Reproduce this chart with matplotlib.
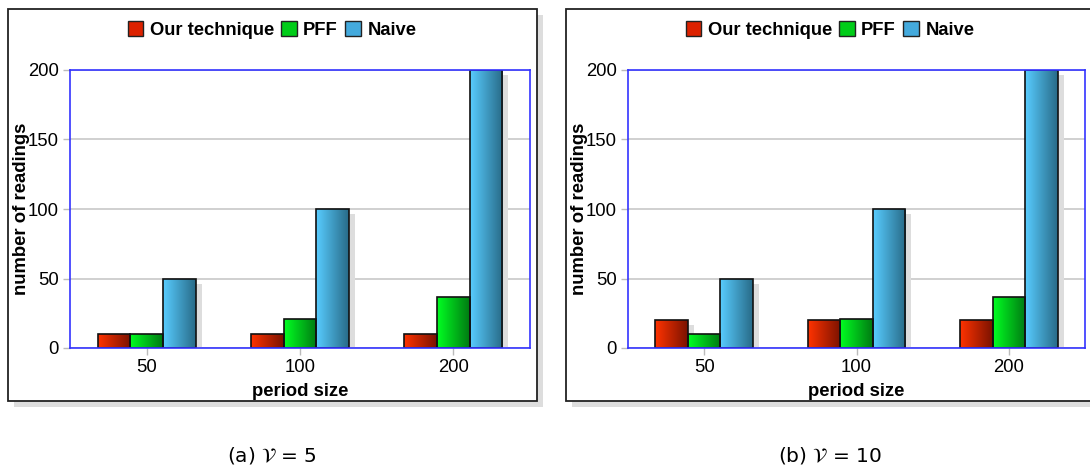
import numpy as np
import matplotlib
matplotlib.use("Agg")
import matplotlib.pyplot as plt
from matplotlib.patches import Rectangle, Patch
from matplotlib.colors import LinearSegmentedColormap

plt.rcParams['font.family'] = ['Liberation Sans', 'DejaVu Sans']

# datos
periodos = ['50', '100', '200']
series = ['Our technique', 'PFF', 'Naive']
our_a = [10, 10, 10]
pff_a = [10, 21, 37]
naive_a = [50, 100, 200]
our_b = [20, 20, 20]
pff_b = [10, 21, 37]
naive_b = [50, 100, 200]
subtitulos = [r'(a) $\mathcal{V}$ = 5', r'(b) $\mathcal{V}$ = 10']

# colores (claro a la izquierda, oscuro a la derecha)
grad = {
    'Our technique': ('#ff3300', '#7a1200'),
    'PFF': ('#00ff22', '#007a12'),
    'Naive': ('#58ccff', '#286b88'),
}
medio = {'Our technique': '#dd2200', 'PFF': '#00cc18', 'Naive': '#44aadd'}

W, H = 1090, 476
fig = plt.figure(figsize=(W / 100, H / 100), dpi=100)


def marco(x0, y0, x1, y1):
    # sombra gris y marco negro (coordenadas de figura)
    fig.patches.append(Rectangle((x0 + 6 / W, y0 - 6 / H), x1 - x0, y1 - y0,
                                 transform=fig.transFigure, facecolor='#dddddd',
                                 edgecolor='none', zorder=0))
    fig.patches.append(Rectangle((x0, y0), x1 - x0, y1 - y0, transform=fig.transFigure,
                                 facecolor='white', edgecolor='#222222', lw=1.3, zorder=1))


marco(8 / W, 1 - 401 / H, 537 / W, 1 - 9 / H)
marco(566 / W, 1 - 401 / H, 1100 / W, 1 - 9 / H)


def panel(rect, datos, centro_x, sub):
    ax = fig.add_axes(rect)
    ax.set_zorder(2)
    x = np.arange(len(periodos))
    ancho = 0.213
    for i, (nombre, vals) in enumerate(zip(series, datos)):
        pos = x + (i - 1) * ancho
        cmap = LinearSegmentedColormap.from_list(nombre, grad[nombre])
        barras = ax.bar(pos, vals, ancho, facecolor='none', edgecolor='#111111',
                        lw=1.2, zorder=4)
        # sombra de la barra
        ax.bar(pos + 0.04, np.array(vals) - 3.6, ancho, color='#dddddd', zorder=1 + i * 0.1)
        for b in barras:
            bx, by = b.get_x(), b.get_y()
            im = ax.imshow(np.linspace(0, 1, 64).reshape(1, -1), cmap=cmap, aspect='auto',
                           extent=[bx, bx + b.get_width(), by, by + b.get_height()],
                           zorder=2 + i * 0.1, interpolation='bilinear')
            r = Rectangle((bx, by), b.get_width(), b.get_height(), transform=ax.transData)
            im.set_clip_path(r)
            # tapar la sombra de la barra anterior
            ax.add_patch(Rectangle((bx, by), b.get_width(), b.get_height(),
                                   facecolor='white', edgecolor='none', zorder=1.9 + i * 0.1))
    ax.set_xlim(-0.5, 2.5)
    ax.set_ylim(0, 200)
    ax.set_xticks(x)
    ax.set_xticklabels(periodos)
    ax.set_yticks([0, 50, 100, 150, 200])
    ax.tick_params(axis='both', labelsize=13.3, color='#bbbbbb', length=5, width=1, pad=3)
    ax.yaxis.grid(True, color='#c8c8c8', lw=1.2, zorder=0)
    ax.set_axisbelow(True)
    for s in ax.spines.values():
        s.set_color('#3333ff')
        s.set_linewidth(1.2)
        s.set_zorder(5)
    ax.set_xlabel('period size', fontsize=13.3, fontweight='bold')
    ax.set_ylabel('number of readings', fontsize=13.3, fontweight='bold')
    ax.xaxis.set_label_coords(0.5, -0.125)
    ax.yaxis.set_label_coords(-0.088, 0.5)
    handles = [Patch(facecolor=medio[n], edgecolor='#222222', label=n) for n in series]
    ax.legend(handles=handles, loc='center', bbox_to_anchor=(centro_x, 1 - 30 / H),
              bbox_transform=fig.transFigure, ncol=3, frameon=False,
              prop={'weight': 'bold', 'size': 13.2}, handlelength=0.85, handleheight=0.85,
              handletextpad=0.35, columnspacing=0.4, borderpad=0)
    fig.text(centro_x, 1 - 455 / H, sub, ha='center', va='center', fontsize=14.5,
             family='DejaVu Sans')
    return ax


panel([70 / W, 1 - 348 / H, 460 / W, 278 / H], [our_a, pff_a, naive_a], 272 / W, subtitulos[0])
panel([628 / W, 1 - 348 / H, 457 / W, 278 / H], [our_b, pff_b, naive_b], 830 / W, subtitulos[1])

fig.savefig('out.png', dpi=100)
